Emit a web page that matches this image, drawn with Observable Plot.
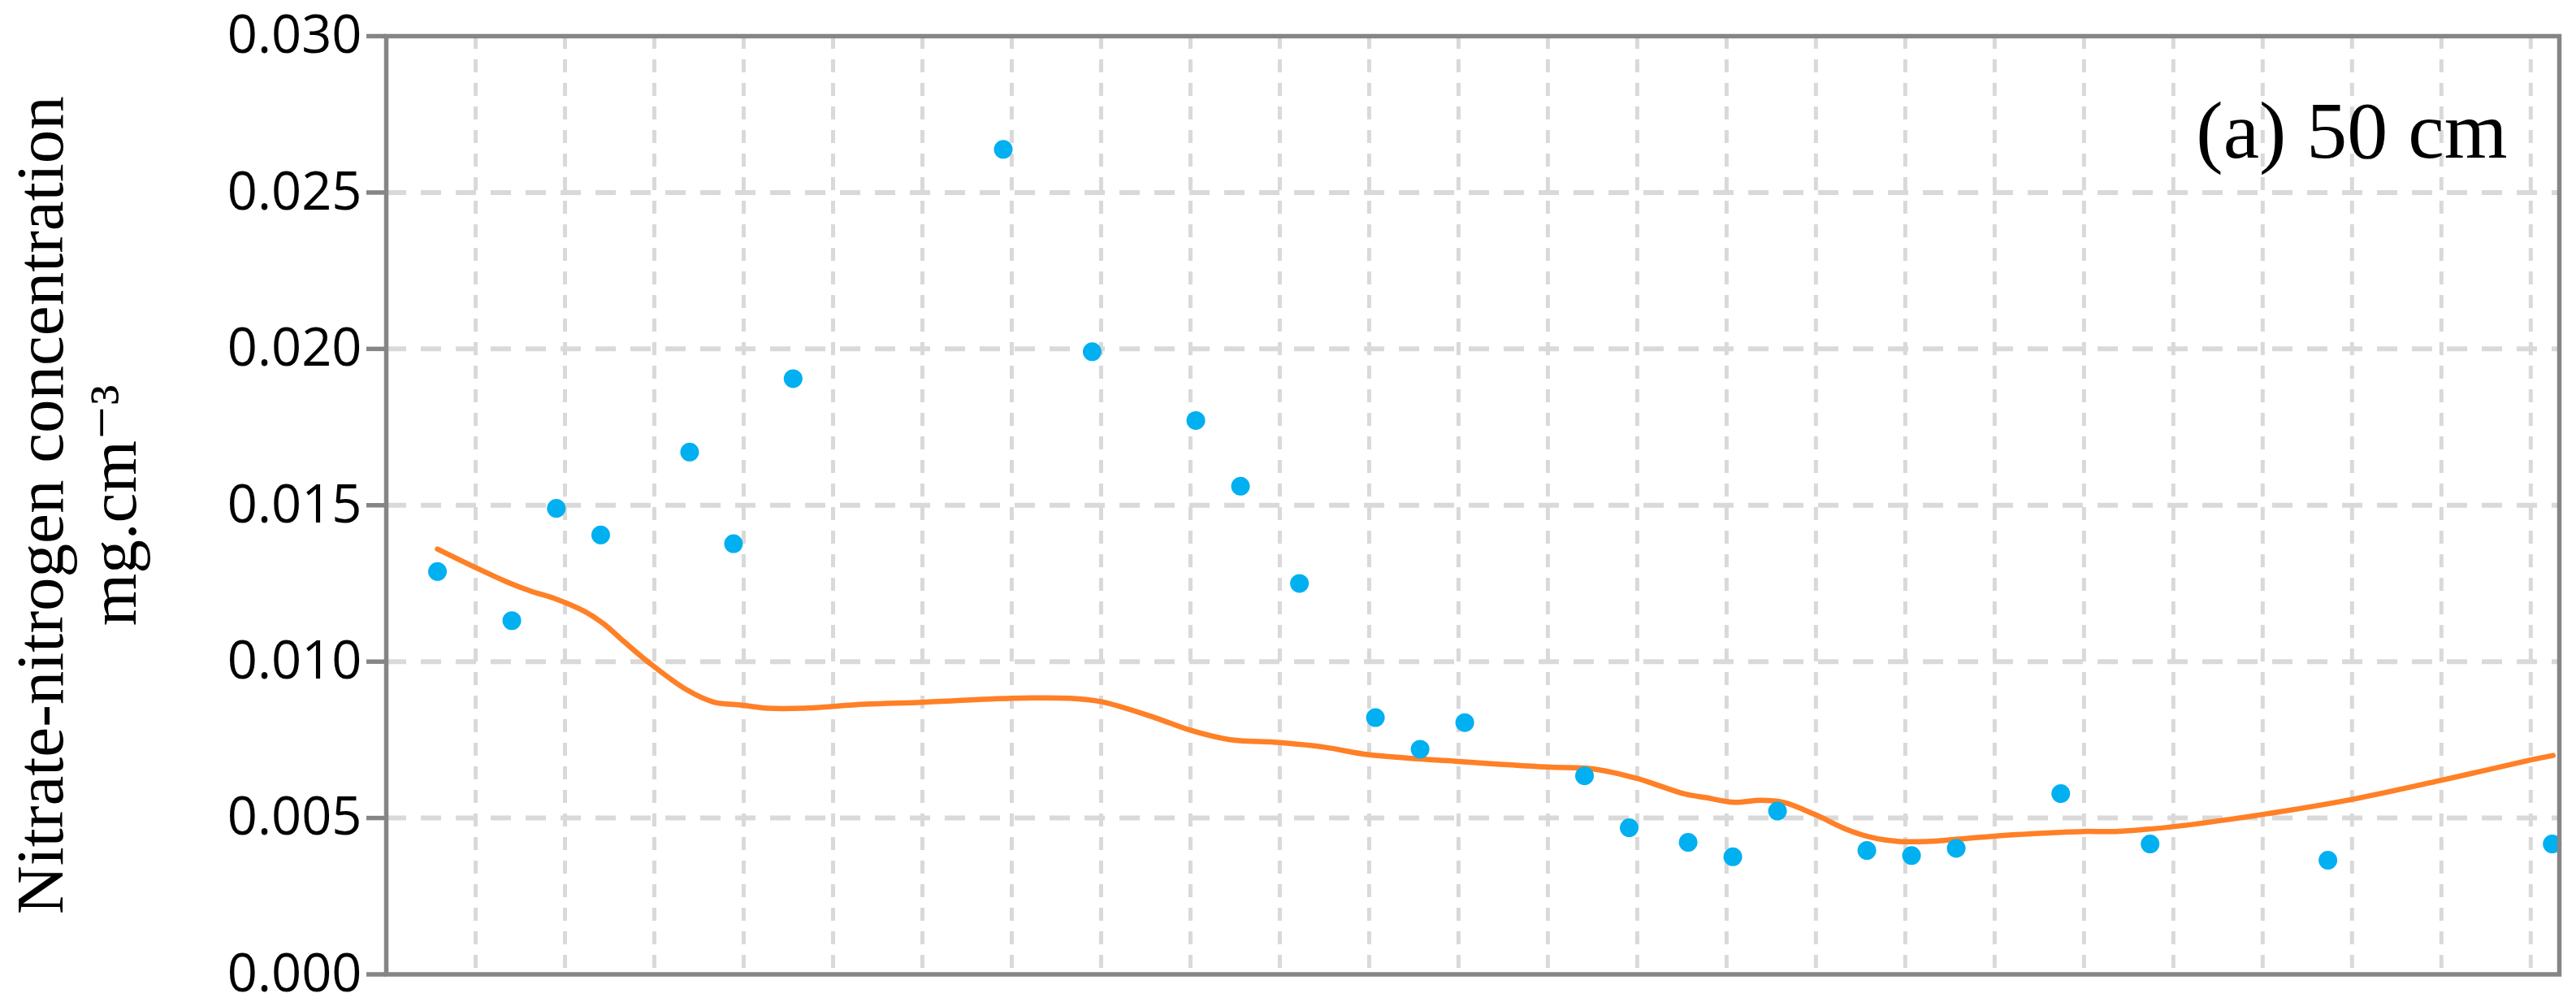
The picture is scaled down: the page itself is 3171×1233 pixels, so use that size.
<!DOCTYPE html>
<html>
<head>
<meta charset="utf-8">
<script src="https://cdn.jsdelivr.net/npm/d3@7"></script>
<script src="https://cdn.jsdelivr.net/npm/@observablehq/plot@0.6"></script>
<style>
  html, body { margin: 0; padding: 0; background: #ffffff; }
  #chart svg { display: block; }
</style>
</head>
<body>
<div id="chart"></div>
<script>
// Observed nitrate-nitrogen concentrations (mg.cm-3) at 50 cm depth
const sampleX = [0.573, 1.405, 1.903, 2.40, 3.395, 3.886, 4.553, 6.905, 7.90, 9.06, 9.56, 10.22,
                 11.07, 11.57, 12.07, 13.41, 13.91, 14.57, 15.07, 15.57, 16.57, 17.07, 17.57,
                 18.74, 19.74, 21.73, 24.24];
const sampleY = [0.01288, 0.01131, 0.0149, 0.01405, 0.0167, 0.01377, 0.01905, 0.02638, 0.01991, 0.01771, 0.01561, 0.0125,
                 0.00821, 0.0072, 0.00805, 0.00635, 0.00469, 0.00422, 0.00376, 0.00522, 0.00396, 0.0038, 0.00403,
                 0.00578, 0.00417, 0.00365, 0.00417];

// Simulated (model) curve
const modelX = [0.573, 0.998, 1.342, 1.614, 1.903, 2.216, 2.427, 2.669, 2.94, 3.362, 3.66, 3.98, 4.268, 4.67,
                5.36, 6.0, 7.0, 7.64, 8.0, 8.6, 8.995, 9.43, 10.0, 10.51, 11.0, 12.0, 12.99, 13.51, 13.99,
                14.53, 14.77, 15.09, 15.38, 15.64, 15.99, 16.34, 16.62, 16.93, 17.24, 17.57, 17.99, 18.6,
                18.99, 19.36, 19.99, 20.99, 21.99, 22.99, 23.99, 24.25];
const modelY = [0.0136, 0.01301, 0.01256, 0.01226, 0.0120, 0.01161, 0.01122, 0.01062, 0.00997, 0.0091, 0.00871, 0.00861, 0.00851, 0.00851,
                0.00864, 0.0087, 0.00883, 0.00883, 0.00872, 0.00821, 0.00781, 0.00751, 0.00741, 0.00726, 0.00702, 0.00681, 0.00663, 0.00657, 0.00627,
                0.00577, 0.00565, 0.0055, 0.00557, 0.0055, 0.00511, 0.00464, 0.00438, 0.00425, 0.00425, 0.00432, 0.00442, 0.00452,
                0.00457, 0.00457, 0.00472, 0.00511, 0.00559, 0.0062, 0.00685, 0.007];

const yTicks = [0, 0.005, 0.010, 0.015, 0.020, 0.025, 0.030];
const yGridTicks = [0.005, 0.010, 0.015, 0.020, 0.025];
const xGridTicks = [1, 2, 3, 4, 5, 6, 7, 8, 9, 10, 11, 12, 13, 14, 15, 16, 17, 18, 19, 20, 21, 22, 23, 24];
const xDomain = [0, 24.32];
const yDomain = [0, 0.030];
const panelLabel = "(a) 50 cm";
const yTitle = "Nitrate-nitrogen concentration\nmg.cm\u207B\u00B3";

const samples = sampleX.map((x, i) => ({x, y: sampleY[i]}));
const model = modelX.map((x, i) => ({x, y: modelY[i]}));

const W = 3171, H = 1233;
const mL = 475, mR = 21, mT = 44, mB = 34.5;
const axisGray = "#858585";

const chart = Plot.plot({
  width: W,
  height: H,
  marginLeft: mL,
  marginRight: mR,
  marginTop: mT,
  marginBottom: mB,
  style: {background: "#ffffff", overflow: "visible"},
  x: {domain: xDomain, axis: null},
  y: {domain: yDomain, axis: null},
  marks: [
    Plot.gridX(xGridTicks, {stroke: "#d9d9d9", strokeOpacity: 1, strokeWidth: 5, strokeDasharray: "16,13"}),
    Plot.gridY(yGridTicks, {stroke: "#d9d9d9", strokeOpacity: 1, strokeWidth: 6, strokeDasharray: "25,18"}),
    Plot.line(model, {x: "x", y: "y", stroke: "#ff8026", strokeWidth: 6.5, curve: "catmull-rom", strokeLinecap: "round", strokeLinejoin: "round"}),
    Plot.dot(samples, {x: "x", y: "y", r: 11.5, fill: "#00b0f0", stroke: "none"}),
    Plot.frame({stroke: axisGray, strokeWidth: 5.5}),
    Plot.axisY(yTicks, {
      anchor: "left",
      tickSize: 24,
      tickPadding: 6,
      tickFormat: d3.format(".3f"),
      stroke: axisGray,
      strokeWidth: 5.5,
      fill: "#000000",
      fontSize: 65,
      fontFamily: "'Open Sans', 'Noto Sans', sans-serif",
      label: null
    }),
    Plot.text([panelLabel], {
      frameAnchor: "top-right",
      textAnchor: "end",
      lineAnchor: "bottom",
      dx: -64,
      dy: 149,
      fontSize: 100,
      fontFamily: "'Liberation Serif', 'DejaVu Serif', serif",
      fill: "#000000"
    }),
    Plot.text([yTitle], {
      frameAnchor: "left",
      textAnchor: "middle",
      lineAnchor: "bottom",
      rotate: -90,
      dx: 166 - mL,
      lineHeight: 1.08,
      fontSize: 83,
      fontFamily: "'Liberation Serif', 'DejaVu Serif', serif",
      fill: "#000000"
    })
  ]
});

document.getElementById("chart").appendChild(chart);
</script>
</body>
</html>
